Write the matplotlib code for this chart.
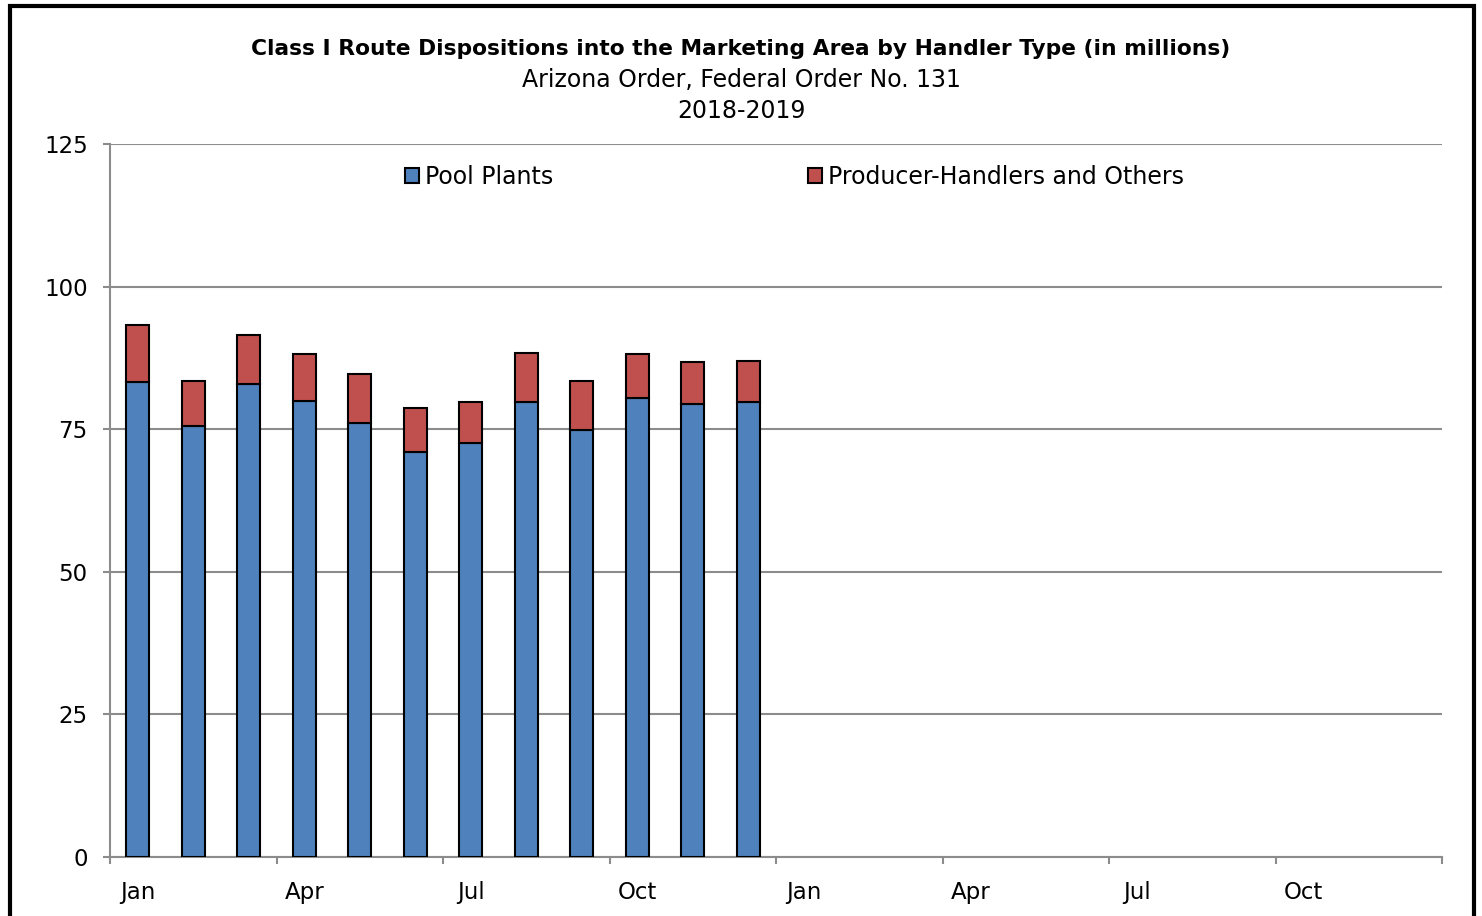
import matplotlib.pyplot as plt
from matplotlib.patches import Rectangle
import numpy as np

# data (millions of pounds)
months = ["Jan", "Feb", "Mar", "Apr", "May", "Jun",
          "Jul", "Aug", "Sep", "Oct", "Nov", "Dec"]
pool_plants = [83.3, 75.6, 83.0, 80.0, 76.0, 71.0, 72.5, 79.7, 74.8, 80.4, 79.5, 79.8]
producer_handlers = [9.9, 7.9, 8.6, 8.1, 8.7, 7.7, 7.2, 8.7, 8.6, 7.8, 7.3, 7.1]
n_slots = 24  # 2018-2019 axis, only 2018 filled
quarter_labels = ["Jan", "Apr", "Jul", "Oct", "Jan", "Apr", "Jul", "Oct"]

BLUE = "#4F81BD"
RED = "#C0504D"
GRID = "#8c8c8c"

fig = plt.figure(figsize=(14.82, 9.16), dpi=100)
ax = fig.add_axes([110 / 1482, 1 - 857 / 916, 1332 / 1482, 713 / 916])

x = np.arange(len(months))
ax.bar(x, pool_plants, width=0.42, color=BLUE, edgecolor="black", linewidth=1.5,
       label="Pool Plants", zorder=3)
ax.bar(x, producer_handlers, width=0.42, bottom=pool_plants, color=RED,
       edgecolor="black", linewidth=1.5, label="Producer-Handlers and Others", zorder=3)

ax.set_xlim(-0.5, n_slots - 0.5)
ax.set_ylim(0, 125)
ax.set_yticks([0, 25, 50, 75, 100, 125])
ax.yaxis.grid(True, color=GRID, linewidth=1.5, zorder=0)

# boundaries between quarters as major ticks, labels on first month of quarter
ax.set_xticks(np.arange(-0.5, n_slots, 3))
ax.set_xticklabels([])
ax.set_xticks(np.arange(0, n_slots, 3), minor=True)
ax.set_xticklabels(quarter_labels, minor=True)
ax.tick_params(axis="x", which="major", length=5, width=1.5, color=GRID, direction="out")
ax.tick_params(axis="x", which="minor", length=0, pad=17, labelsize=16.5)
ax.tick_params(axis="y", length=5, width=1.5, color=GRID, pad=11, labelsize=16.5)

for side in ["top", "right"]:
    ax.spines[side].set_visible(False)
for side in ["left", "bottom"]:
    ax.spines[side].set_color(GRID)
    ax.spines[side].set_linewidth(1.5)

ax.legend(loc="upper center", bbox_to_anchor=(0.514, 1.0), ncol=2, frameon=False,
          fontsize=17, handlelength=0.6, handleheight=0.6, handletextpad=0.25,
          columnspacing=10.8, borderaxespad=0.5)

fig.text(0.5, 1 - 49 / 916, "Class I Route Dispositions into the Marketing Area by Handler Type (in millions)",
         ha="center", va="center", fontsize=15.7, fontweight="bold")
fig.text(0.5, 1 - 80 / 916, "Arizona Order, Federal Order No. 131",
         ha="center", va="center", fontsize=17)
fig.text(0.5, 1 - 111 / 916, "2018-2019",
         ha="center", va="center", fontsize=17)

# outer black border
fig.patches.append(Rectangle((10 / 1482, -0.05), 1464 / 1482, 1.05 - 6 / 916,
                             transform=fig.transFigure, fill=False,
                             edgecolor="black", linewidth=3))

fig.savefig("out.png", dpi=100)
